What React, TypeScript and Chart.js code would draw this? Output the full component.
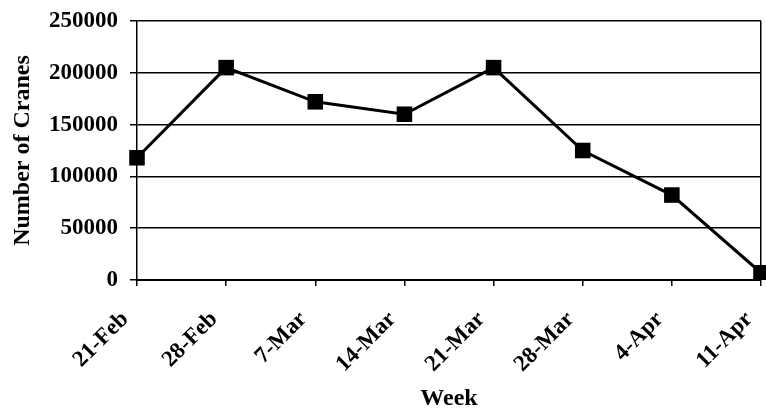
import React, { useEffect, useRef } from "react";
import { Chart, registerables } from "chart.js";

Chart.register(...registerables);

const weeks = ["21-Feb", "28-Feb", "7-Mar", "14-Mar", "21-Mar", "28-Mar", "4-Apr", "11-Apr"];
const cranes = [118000, 205000, 172000, 160000, 205000, 125000, 82000, 7000];
const yTicks = [0, 50000, 100000, 150000, 200000, 250000];

const FONT = "'Liberation Serif', 'Times New Roman', serif";

export default function App() {
  const ref = useRef<HTMLCanvasElement | null>(null);
  useEffect(() => {
    document.body.style.margin = "0";
    document.body.style.overflow = "hidden";
    const canvas = ref.current!;
    const chart = new Chart(canvas, {
      type: "line",
      data: {
        labels: weeks,
        datasets: [
          {
            data: cranes,
            borderColor: "#000",
            backgroundColor: "#000",
            borderWidth: 3,
            pointStyle: "rect",
            pointRadius: 11,
            pointBorderWidth: 0,
            tension: 0,
          },
        ],
      },
      options: {
        responsive: false,
        animation: false,
        layout: { padding: { top: 21, right: 0, left: 0, bottom: 0 } },
        plugins: { legend: { display: false }, tooltip: { enabled: false } },
        scales: {
          x: {
            offset: false,
            afterFit: (axis: any) => {
              axis.height = 133;
              axis.paddingLeft = 0;
              axis.paddingRight = 0;
              axis.paddingTop = 0;
              axis.paddingBottom = 0;
            },
            grid: {
              color: (c: any) => (c.index === weeks.length - 1 ? "#000" : "rgba(0,0,0,0)"),
              tickColor: "#000",
              lineWidth: 1.5,
              tickLength: 6,
            },
            border: { display: true, color: "#000", width: 2 },
            ticks: {
              color: "#000",
              font: { family: FONT, size: 23, weight: "bold" },
              minRotation: 45,
              maxRotation: 45,
              padding: 20,
              labelOffset: -12,
            },
            title: {
              display: true,
              text: "Week",
              color: "#000",
              font: { family: FONT, size: 24, weight: "bold" },
              padding: { top: 0, bottom: 0 },
            },
          },
          y: {
            min: 0,
            max: 250000,
            afterFit: (axis: any) => {
              axis.width = 137;
              axis.paddingLeft = 0;
              axis.paddingRight = 0;
              axis.paddingTop = 0;
              axis.paddingBottom = 0;
            },
            afterBuildTicks: (axis: any) => {
              axis.ticks = yTicks.map((v) => ({ value: v }));
            },
            grid: { color: "#000", lineWidth: 1.5, tickLength: 7 },
            border: { display: true, color: "#000", width: 1.5 },
            ticks: {
              color: "#000",
              font: { family: FONT, size: 23, weight: "bold" },
              padding: 12,
              callback: (v: any) => String(v),
            },
            title: {
              display: true,
              text: "Number of Cranes",
              color: "#000",
              font: { family: FONT, size: 24, weight: "bold" },
              padding: { top: 8, bottom: 0 },
            },
          },
        },
      },
    });
    return () => chart.destroy();
  }, []);
  return (
    <div style={{ width: 766, height: 413, overflow: "hidden" }}>
      <canvas ref={ref} width={772} height={413} style={{ display: "block" }} />
    </div>
  );
}
